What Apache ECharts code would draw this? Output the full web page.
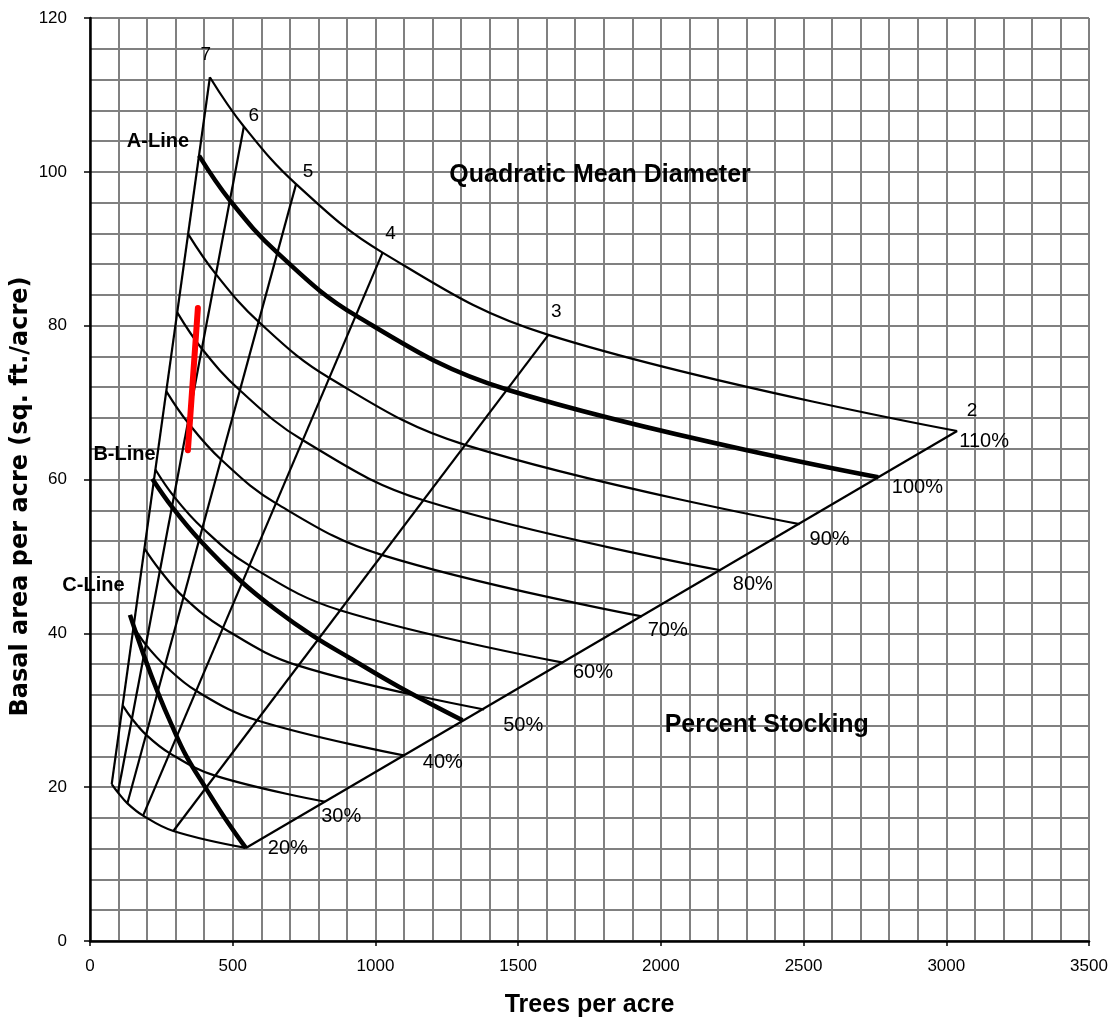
<!DOCTYPE html>
<html lang="en">
<head>
<meta charset="UTF-8">
<title>Stocking guide</title>
<script src="https://cdn.jsdelivr.net/npm/echarts@6/dist/echarts.min.js"></script>
<style>
  html, body { margin: 0; padding: 0; background: #fff; }
  #main { width: 1117px; height: 1023px; }
</style>
</head>
<body>
<div id="main"></div>
<script>
// percent stocking levels and the quadratic mean diameters (inches)
var stockingLevels = [20, 30, 40, 50, 60, 70, 80, 90, 100, 110];
var diameters = [7, 6, 5, 4, 3, 2];

// [trees per acre, basal area] where each stocking curve meets the diameter lines 7..2
var s20  = [[76, 20.4], [98, 19.3], [131, 17.9], [186, 16.3], [292, 14.3], [546, 12.1]];
var s30  = [[115, 30.6], [147, 28.9], [197, 26.8], [280, 24.4], [438, 21.5], [824, 18.1]];
var s40  = [[153, 40.8], [196, 38.5], [263, 35.8], [373, 32.5], [584, 28.7], [1103, 24.1]];
var s50  = [[191, 51.0], [245, 48.2], [328, 44.7], [466, 40.7], [730, 35.8], [1381, 30.1]];
var s60  = [[229, 61.3], [294, 57.8], [394, 53.7], [559, 48.8], [876, 43.0], [1657, 36.2]];
var s70  = [[267, 71.5], [343, 67.4], [459, 62.6], [652, 56.9], [1022, 50.2], [1933, 42.2]];
var s80  = [[306, 81.7], [392, 77.0], [525, 71.6], [746, 65.1], [1168, 57.3], [2210, 48.2]];
var s90  = [[344, 91.9], [441, 86.7], [591, 80.5], [839, 73.2], [1314, 64.5], [2486, 54.2]];
var s100 = [[382, 102.1], [490, 96.3], [656, 89.5], [932, 81.3], [1460, 71.7], [2762, 60.3]];
var s110 = [[420, 112.3], [539, 105.9], [722, 98.4], [1025, 89.5], [1606, 78.8], [3038, 66.3]];
var stockingCurves = [s20, s30, s40, s50, s60, s70, s80, s90, s100, s110];

// B-line and C-line
var bLine = [[218, 60.1], [290, 56.3], [385, 52.1], [525, 46.9], [650, 43.1], [780, 39.7], [910, 36.8], [1085, 33.0], [1305, 28.7]];
var cLine = [[140, 42.4], [188, 37.2], [239, 32.2], [286, 28.1], [338, 24.0], [402, 20.1], [467, 16.3], [546, 12.1]];

// the red stand trajectory
var redLine = [[378, 82.3], [343, 63.8]];

var FONT = "'Liberation Sans', Arial, sans-serif";
var chart = echarts.init(document.getElementById('main'));

var series = [];

// diameter lines: straight from the 20% curve up to the 110% curve
diameters.forEach(function (d, j) {
  series.push({
    type: 'line', name: 'D' + d, silent: true, symbol: 'none', z: 3,
    data: [s20[j], s110[j]],
    lineStyle: { color: '#000', width: 2.2 }
  });
});

// percent stocking curves (100% is the A-line, drawn heavy)
stockingCurves.forEach(function (c, i) {
  series.push({
    type: 'line', name: stockingLevels[i] + '%', silent: true, symbol: 'none', z: 3,
    smooth: 0.4,
    data: c,
    lineStyle: { color: '#000', width: stockingLevels[i] === 100 ? 4.5 : 2.2 }
  });
});

series.push({
  type: 'line', name: 'B-Line', silent: true, symbol: 'none', smooth: 0.4, z: 4,
  data: bLine, lineStyle: { color: '#000', width: 4.5 }
});
series.push({
  type: 'line', name: 'C-Line', silent: true, symbol: 'none', smooth: 0.4, z: 4,
  data: cLine, lineStyle: { color: '#000', width: 4.5 }
});
series.push({
  type: 'line', name: 'stand', silent: true, symbol: 'none', z: 6,
  data: redLine, lineStyle: { color: '#ff0000', width: 6, cap: 'round' }
});

// text annotations tied to chart coordinates
var pctOffsets = [[42, 1], [16, 15], [38, 7], [39, 16], [30, 10], [26, 14], [32, 14], [30, 15], [39, 10], [27, 10]];
var diaOffsets = [[-4, -22], [10, -11], [12, -12], [8, -19], [8, -23], [15, -20]];
function note(value, text, size, bold, offset) {
  return {
    value: value,
    label: {
      formatter: text, fontSize: size, fontWeight: bold ? 'bold' : 'normal',
      color: '#000', offset: offset || [0, 0]
    }
  };
}
var notes = [];
stockingCurves.forEach(function (c, i) {
  notes.push(note(c[c.length - 1], stockingLevels[i] + '%', 20, false, pctOffsets[i]));
});
diameters.forEach(function (d, j) {
  notes.push(note(s110[j], String(d), 19, false, diaOffsets[j]));
});
notes.push(note([238, 104.0], 'A-Line', 20, true));
notes.push(note([121, 63.2], 'B-Line', 20, true));
notes.push(note([12, 46.2], 'C-Line', 20, true));
notes.push(note([1787, 99.6], 'Quadratic Mean Diameter', 25, true));
notes.push(note([2371, 28.1], 'Percent Stocking', 25, true));

series.push({
  type: 'scatter', silent: true, clip: false, z: 7,
  symbol: 'circle', symbolSize: 0,
  itemStyle: { color: '#000' },
  label: {
    show: true, position: 'inside', color: '#000', fontFamily: FONT,
    textBorderWidth: 0, opacity: 1
  },
  data: notes
});

var gridLine = { color: '#808080', width: 2 };
function plain(v) { return String(v); }

var option = {
  animation: false,
  backgroundColor: '#fff',
  grid: { left: 90, right: 28, top: 18, bottom: 82, containLabel: false, outerBoundsMode: 'none' },
  xAxis: {
    type: 'value', min: 0, max: 3500, interval: 500,
    name: 'Trees per acre', nameLocation: 'middle', nameGap: 52,
    nameTextStyle: { fontFamily: FONT, fontWeight: 'bold', fontSize: 25, color: '#000' },
    axisLine: { show: true, onZero: false, lineStyle: { color: '#000', width: 2.5 } },
    axisTick: { show: true, length: 5, lineStyle: { color: '#000', width: 1.5 } },
    axisLabel: { fontFamily: FONT, fontSize: 17, color: '#000', margin: 17, formatter: plain },
    splitLine: { show: true, lineStyle: gridLine },
    minorTick: { show: false, splitNumber: 5 },
    minorSplitLine: { show: true, lineStyle: gridLine }
  },
  yAxis: {
    type: 'value', min: 0, max: 120, interval: 20,
    name: 'Basal area per acre (sq. ft./acre)', nameLocation: 'middle', nameGap: 57,
    nameMoveOverlap: false,
    nameTextStyle: {
      fontFamily: "'DejaVu Sans', sans-serif", fontWeight: 'bold', fontSize: 24, color: '#000',
      padding: [0, 34, 0, 0]
    },
    axisLine: { show: true, onZero: false, lineStyle: { color: '#000', width: 2.5 } },
    axisTick: { show: true, length: 6, lineStyle: { color: '#000', width: 1.5 } },
    axisLabel: { fontFamily: FONT, fontSize: 17, color: '#000', margin: 23, formatter: plain },
    splitLine: { show: true, lineStyle: gridLine },
    minorTick: { show: false, splitNumber: 5 },
    minorSplitLine: { show: true, lineStyle: gridLine }
  },
  series: series
};

chart.setOption(option);
</script>
</body>
</html>
